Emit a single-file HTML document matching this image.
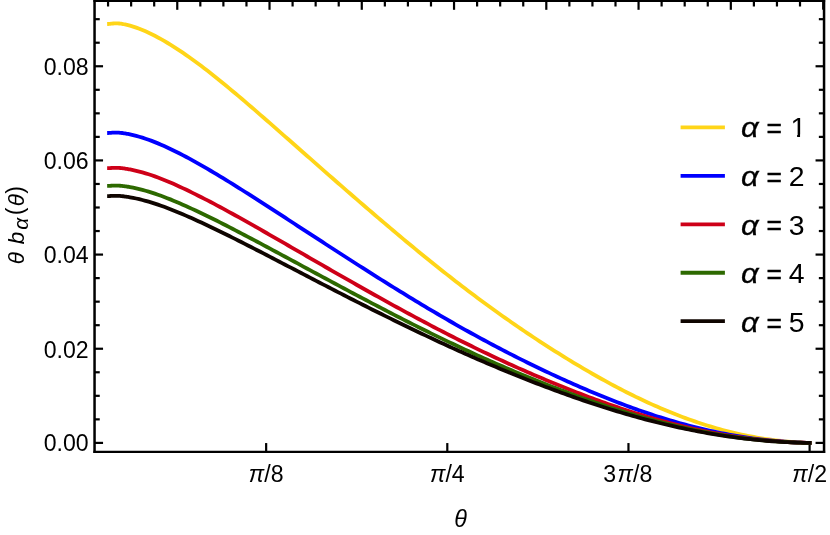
<!DOCTYPE html>
<html><head><meta charset="utf-8"><title>plot</title>
<style>html,body{margin:0;padding:0;background:#fff;}svg{display:block;will-change:transform;}text{font-family:"Liberation Sans",sans-serif;fill:#000;}</style></head><body>
<svg width="830" height="535" viewBox="0 0 830 535">
<rect width="830" height="535" fill="#fff"/>
<g stroke="#000" stroke-width="2.20" fill="none">
<line x1="94.55" y1="442.90" x2="103.05" y2="442.90"/>
<line x1="824.05" y1="442.90" x2="815.55" y2="442.90"/>
<line x1="94.55" y1="419.36" x2="99.75" y2="419.36"/>
<line x1="824.05" y1="419.36" x2="818.85" y2="419.36"/>
<line x1="94.55" y1="395.82" x2="99.75" y2="395.82"/>
<line x1="824.05" y1="395.82" x2="818.85" y2="395.82"/>
<line x1="94.55" y1="372.28" x2="99.75" y2="372.28"/>
<line x1="824.05" y1="372.28" x2="818.85" y2="372.28"/>
<line x1="94.55" y1="348.74" x2="103.05" y2="348.74"/>
<line x1="824.05" y1="348.74" x2="815.55" y2="348.74"/>
<line x1="94.55" y1="325.20" x2="99.75" y2="325.20"/>
<line x1="824.05" y1="325.20" x2="818.85" y2="325.20"/>
<line x1="94.55" y1="301.66" x2="99.75" y2="301.66"/>
<line x1="824.05" y1="301.66" x2="818.85" y2="301.66"/>
<line x1="94.55" y1="278.12" x2="99.75" y2="278.12"/>
<line x1="824.05" y1="278.12" x2="818.85" y2="278.12"/>
<line x1="94.55" y1="254.58" x2="103.05" y2="254.58"/>
<line x1="824.05" y1="254.58" x2="815.55" y2="254.58"/>
<line x1="94.55" y1="231.04" x2="99.75" y2="231.04"/>
<line x1="824.05" y1="231.04" x2="818.85" y2="231.04"/>
<line x1="94.55" y1="207.50" x2="99.75" y2="207.50"/>
<line x1="824.05" y1="207.50" x2="818.85" y2="207.50"/>
<line x1="94.55" y1="183.96" x2="99.75" y2="183.96"/>
<line x1="824.05" y1="183.96" x2="818.85" y2="183.96"/>
<line x1="94.55" y1="160.42" x2="103.05" y2="160.42"/>
<line x1="824.05" y1="160.42" x2="815.55" y2="160.42"/>
<line x1="94.55" y1="136.88" x2="99.75" y2="136.88"/>
<line x1="824.05" y1="136.88" x2="818.85" y2="136.88"/>
<line x1="94.55" y1="113.34" x2="99.75" y2="113.34"/>
<line x1="824.05" y1="113.34" x2="818.85" y2="113.34"/>
<line x1="94.55" y1="89.80" x2="99.75" y2="89.80"/>
<line x1="824.05" y1="89.80" x2="818.85" y2="89.80"/>
<line x1="94.55" y1="66.26" x2="103.05" y2="66.26"/>
<line x1="824.05" y1="66.26" x2="815.55" y2="66.26"/>
<line x1="94.55" y1="42.72" x2="99.75" y2="42.72"/>
<line x1="824.05" y1="42.72" x2="818.85" y2="42.72"/>
<line x1="94.55" y1="19.18" x2="99.75" y2="19.18"/>
<line x1="824.05" y1="19.18" x2="818.85" y2="19.18"/>
<line x1="108.06" y1="1.00" x2="108.06" y2="6.50"/>
<line x1="131.13" y1="1.00" x2="131.13" y2="6.50"/>
<line x1="154.19" y1="1.00" x2="154.19" y2="6.50"/>
<line x1="177.26" y1="1.00" x2="177.26" y2="9.80"/>
<line x1="200.32" y1="1.00" x2="200.32" y2="6.50"/>
<line x1="223.39" y1="1.00" x2="223.39" y2="6.50"/>
<line x1="246.46" y1="1.00" x2="246.46" y2="6.50"/>
<line x1="269.52" y1="1.00" x2="269.52" y2="9.80"/>
<line x1="292.59" y1="1.00" x2="292.59" y2="6.50"/>
<line x1="315.65" y1="1.00" x2="315.65" y2="6.50"/>
<line x1="338.72" y1="1.00" x2="338.72" y2="6.50"/>
<line x1="361.78" y1="1.00" x2="361.78" y2="9.80"/>
<line x1="384.85" y1="1.00" x2="384.85" y2="6.50"/>
<line x1="407.91" y1="1.00" x2="407.91" y2="6.50"/>
<line x1="430.98" y1="1.00" x2="430.98" y2="6.50"/>
<line x1="454.04" y1="1.00" x2="454.04" y2="9.80"/>
<line x1="477.11" y1="1.00" x2="477.11" y2="6.50"/>
<line x1="500.17" y1="1.00" x2="500.17" y2="6.50"/>
<line x1="523.24" y1="1.00" x2="523.24" y2="6.50"/>
<line x1="546.30" y1="1.00" x2="546.30" y2="9.80"/>
<line x1="569.37" y1="1.00" x2="569.37" y2="6.50"/>
<line x1="592.43" y1="1.00" x2="592.43" y2="6.50"/>
<line x1="615.50" y1="1.00" x2="615.50" y2="6.50"/>
<line x1="638.56" y1="1.00" x2="638.56" y2="9.80"/>
<line x1="661.62" y1="1.00" x2="661.62" y2="6.50"/>
<line x1="684.69" y1="1.00" x2="684.69" y2="6.50"/>
<line x1="707.76" y1="1.00" x2="707.76" y2="6.50"/>
<line x1="730.82" y1="1.00" x2="730.82" y2="9.80"/>
<line x1="753.89" y1="1.00" x2="753.89" y2="6.50"/>
<line x1="776.95" y1="1.00" x2="776.95" y2="6.50"/>
<line x1="800.01" y1="1.00" x2="800.01" y2="6.50"/>
<line x1="266.15" y1="451.85" x2="266.15" y2="443.05"/>
<line x1="447.30" y1="451.85" x2="447.30" y2="443.05"/>
<line x1="628.46" y1="451.85" x2="628.46" y2="443.05"/>
<line x1="809.61" y1="451.85" x2="809.61" y2="443.05"/>
</g>
<g fill="none" stroke-width="3.8" stroke-linejoin="round" stroke-linecap="butt">
<path stroke="#FFD518" d="M107.15 24.02 L108.14 23.99 L109.14 23.91 L110.13 23.81 L111.12 23.70 L112.12 23.58 L113.11 23.49 L114.10 23.41 L115.10 23.37 L116.09 23.36 L117.08 23.38 L118.08 23.43 L119.07 23.51 L120.07 23.61 L121.06 23.74 L122.05 23.90 L123.05 24.07 L124.04 24.25 L125.03 24.46 L126.03 24.68 L127.02 24.91 L128.01 25.16 L129.01 25.42 L130.00 25.69 L133.10 26.61 L136.21 27.65 L139.31 28.79 L142.41 30.02 L145.52 31.35 L148.62 32.76 L151.72 34.25 L154.83 35.82 L157.93 37.45 L161.03 39.16 L164.14 40.93 L167.24 42.75 L170.34 44.64 L173.44 46.58 L176.55 48.57 L179.65 50.61 L182.75 52.69 L185.86 54.83 L188.96 57.00 L192.06 59.22 L195.17 61.48 L198.27 63.77 L201.37 66.10 L204.48 68.46 L207.58 70.85 L210.68 73.27 L213.79 75.72 L216.89 78.20 L219.99 80.70 L223.10 83.23 L226.20 85.77 L229.30 88.34 L232.41 90.92 L235.51 93.52 L238.61 96.14 L241.72 98.77 L244.82 101.42 L247.92 104.08 L251.02 106.75 L254.13 109.42 L257.23 112.11 L260.33 114.81 L263.44 117.51 L266.54 120.22 L269.64 122.94 L272.75 125.65 L275.85 128.38 L278.95 131.10 L282.06 133.83 L285.16 136.57 L288.26 139.30 L291.37 142.03 L294.47 144.77 L297.57 147.50 L300.68 150.24 L303.78 152.97 L306.88 155.71 L309.99 158.44 L313.09 161.17 L316.19 163.90 L319.29 166.63 L322.40 169.36 L325.50 172.09 L328.60 174.81 L331.71 177.53 L334.81 180.25 L337.91 182.96 L341.02 185.68 L344.12 188.38 L347.22 191.09 L350.33 193.79 L353.43 196.49 L356.53 199.18 L359.64 201.86 L362.74 204.55 L365.84 207.22 L368.95 209.89 L372.05 212.56 L375.15 215.22 L378.26 217.87 L381.36 220.52 L384.46 223.16 L387.57 225.79 L390.67 228.42 L393.77 231.03 L396.87 233.64 L399.98 236.24 L403.08 238.84 L406.18 241.42 L409.29 244.00 L412.39 246.56 L415.49 249.12 L418.60 251.67 L421.70 254.21 L424.80 256.73 L427.91 259.25 L431.01 261.76 L434.11 264.25 L437.22 266.74 L440.32 269.21 L443.42 271.67 L446.53 274.12 L449.63 276.55 L452.73 278.98 L455.84 281.39 L458.94 283.79 L462.04 286.17 L465.15 288.55 L468.25 290.90 L471.35 293.25 L474.45 295.58 L477.56 297.90 L480.66 300.20 L483.76 302.49 L486.87 304.77 L489.97 307.03 L493.07 309.28 L496.18 311.51 L499.28 313.73 L502.38 315.94 L505.49 318.13 L508.59 320.30 L511.69 322.47 L514.80 324.61 L517.90 326.75 L521.00 328.87 L524.11 330.97 L527.21 333.07 L530.31 335.14 L533.42 337.21 L536.52 339.26 L539.62 341.30 L542.73 343.32 L545.83 345.33 L548.93 347.32 L552.03 349.30 L555.14 351.27 L558.24 353.23 L561.34 355.16 L564.45 357.09 L567.55 359.00 L570.65 360.89 L573.76 362.77 L576.86 364.64 L579.96 366.49 L583.07 368.32 L586.17 370.14 L589.27 371.95 L592.38 373.73 L595.48 375.50 L598.58 377.25 L601.69 378.99 L604.79 380.71 L607.89 382.40 L611.00 384.08 L614.10 385.75 L617.20 387.39 L620.31 389.01 L623.41 390.62 L626.51 392.20 L629.61 393.76 L632.72 395.30 L635.82 396.83 L638.92 398.33 L642.03 399.80 L645.13 401.26 L648.23 402.70 L651.34 404.11 L654.44 405.50 L657.54 406.86 L660.65 408.21 L663.75 409.53 L666.85 410.83 L669.96 412.10 L673.06 413.35 L676.16 414.57 L679.27 415.78 L682.37 416.95 L685.47 418.10 L688.58 419.23 L691.68 420.33 L694.78 421.41 L697.88 422.46 L700.99 423.49 L704.09 424.49 L707.19 425.47 L710.30 426.42 L713.40 427.34 L716.50 428.24 L719.61 429.11 L722.71 429.96 L725.81 430.78 L728.92 431.57 L732.02 432.34 L735.12 433.08 L738.23 433.79 L741.33 434.48 L744.43 435.14 L747.54 435.77 L750.64 436.38 L753.74 436.96 L756.85 437.52 L759.95 438.05 L763.05 438.55 L766.16 439.02 L769.26 439.47 L772.36 439.89 L775.46 440.29 L778.57 440.66 L781.67 441.00 L784.77 441.31 L787.88 441.60 L790.98 441.87 L794.08 442.10 L797.19 442.32 L800.29 442.50 L803.39 442.66 L806.50 442.79 L809.60 442.90 L811.50 442.90"/>
<path stroke="#0000FF" d="M107.15 133.02 L108.14 133.00 L109.14 132.94 L110.13 132.87 L111.12 132.79 L112.12 132.71 L113.11 132.65 L114.10 132.60 L115.10 132.57 L116.09 132.56 L117.08 132.59 L118.08 132.63 L119.07 132.69 L120.07 132.78 L121.06 132.88 L122.05 133.00 L123.05 133.13 L124.04 133.27 L125.03 133.43 L126.03 133.60 L127.02 133.78 L128.01 133.97 L129.01 134.17 L130.00 134.38 L133.10 135.08 L136.21 135.88 L139.31 136.74 L142.41 137.69 L145.52 138.70 L148.62 139.78 L151.72 140.91 L154.83 142.11 L157.93 143.37 L161.03 144.69 L164.14 146.06 L167.24 147.47 L170.34 148.93 L173.44 150.43 L176.55 151.96 L179.65 153.54 L182.75 155.15 L185.86 156.79 L188.96 158.45 L192.06 160.15 L195.17 161.87 L198.27 163.60 L201.37 165.36 L204.48 167.13 L207.58 168.93 L210.68 170.74 L213.79 172.57 L216.89 174.43 L219.99 176.30 L223.10 178.18 L226.20 180.08 L229.30 182.00 L232.41 183.92 L235.51 185.86 L238.61 187.81 L241.72 189.76 L244.82 191.73 L247.92 193.70 L251.02 195.67 L254.13 197.65 L257.23 199.64 L260.33 201.63 L263.44 203.63 L266.54 205.63 L269.64 207.64 L272.75 209.65 L275.85 211.66 L278.95 213.68 L282.06 215.69 L285.16 217.71 L288.26 219.73 L291.37 221.75 L294.47 223.77 L297.57 225.79 L300.68 227.81 L303.78 229.84 L306.88 231.86 L309.99 233.88 L313.09 235.90 L316.19 237.92 L319.29 239.93 L322.40 241.95 L325.50 243.97 L328.60 245.98 L331.71 247.99 L334.81 250.00 L337.91 252.01 L341.02 254.01 L344.12 256.02 L347.22 258.01 L350.33 260.01 L353.43 262.00 L356.53 263.99 L359.64 265.98 L362.74 267.96 L365.84 269.94 L368.95 271.91 L372.05 273.87 L375.15 275.84 L378.26 277.79 L381.36 279.74 L384.46 281.69 L387.57 283.63 L390.67 285.56 L393.77 287.49 L396.87 289.41 L399.98 291.33 L403.08 293.24 L406.18 295.14 L409.29 297.03 L412.39 298.92 L415.49 300.80 L418.60 302.68 L421.70 304.54 L424.80 306.40 L427.91 308.26 L431.01 310.10 L434.11 311.93 L437.22 313.76 L440.32 315.58 L443.42 317.39 L446.53 319.19 L449.63 320.98 L452.73 322.76 L455.84 324.54 L458.94 326.30 L462.04 328.05 L465.15 329.79 L468.25 331.52 L471.35 333.25 L474.45 334.96 L477.56 336.66 L480.66 338.35 L483.76 340.03 L486.87 341.70 L489.97 343.36 L493.07 345.01 L496.18 346.65 L499.28 348.27 L502.38 349.89 L505.49 351.50 L508.59 353.09 L511.69 354.68 L514.80 356.25 L517.90 357.82 L521.00 359.37 L524.11 360.92 L527.21 362.45 L530.31 363.97 L533.42 365.49 L536.52 366.99 L539.62 368.48 L542.73 369.96 L545.83 371.43 L548.93 372.90 L552.03 374.35 L555.14 375.79 L558.24 377.22 L561.34 378.64 L564.45 380.05 L567.55 381.45 L570.65 382.83 L573.76 384.21 L576.86 385.57 L579.96 386.93 L583.07 388.27 L586.17 389.60 L589.27 390.92 L592.38 392.23 L595.48 393.52 L598.58 394.81 L601.69 396.08 L604.79 397.33 L607.89 398.57 L611.00 399.80 L614.10 401.02 L617.20 402.22 L620.31 403.40 L623.41 404.57 L626.51 405.73 L629.61 406.87 L632.72 408.00 L635.82 409.11 L638.92 410.20 L642.03 411.28 L645.13 412.34 L648.23 413.39 L651.34 414.42 L654.44 415.44 L657.54 416.44 L660.65 417.42 L663.75 418.38 L666.85 419.33 L669.96 420.27 L673.06 421.18 L676.16 422.08 L679.27 422.96 L682.37 423.82 L685.47 424.67 L688.58 425.50 L691.68 426.30 L694.78 427.09 L697.88 427.87 L700.99 428.62 L704.09 429.35 L707.19 430.07 L710.30 430.76 L713.40 431.44 L716.50 432.10 L719.61 432.74 L722.71 433.36 L725.81 433.96 L728.92 434.54 L732.02 435.11 L735.12 435.65 L738.23 436.17 L741.33 436.68 L744.43 437.17 L747.54 437.63 L750.64 438.08 L753.74 438.51 L756.85 438.92 L759.95 439.31 L763.05 439.68 L766.16 440.03 L769.26 440.36 L772.36 440.67 L775.46 440.97 L778.57 441.24 L781.67 441.49 L784.77 441.73 L787.88 441.94 L790.98 442.14 L794.08 442.31 L797.19 442.47 L800.29 442.60 L803.39 442.72 L806.50 442.82 L809.60 442.90 L811.50 442.90"/>
<path stroke="#CE0018" d="M107.15 168.21 L108.14 168.20 L109.14 168.15 L110.13 168.09 L111.12 168.02 L112.12 167.95 L113.11 167.90 L114.10 167.85 L115.10 167.83 L116.09 167.83 L117.08 167.85 L118.08 167.89 L119.07 167.95 L120.07 168.02 L121.06 168.11 L122.05 168.22 L123.05 168.34 L124.04 168.47 L125.03 168.61 L126.03 168.76 L127.02 168.92 L128.01 169.09 L129.01 169.27 L130.00 169.46 L133.10 170.09 L136.21 170.80 L139.31 171.58 L142.41 172.42 L145.52 173.33 L148.62 174.29 L151.72 175.31 L154.83 176.39 L157.93 177.52 L161.03 178.70 L164.14 179.93 L167.24 181.20 L170.34 182.51 L173.44 183.86 L176.55 185.24 L179.65 186.66 L182.75 188.10 L185.86 189.58 L188.96 191.07 L192.06 192.59 L195.17 194.12 L198.27 195.68 L201.37 197.24 L204.48 198.82 L207.58 200.42 L210.68 202.03 L213.79 203.67 L216.89 205.31 L219.99 206.98 L223.10 208.66 L226.20 210.35 L229.30 212.05 L232.41 213.76 L235.51 215.48 L238.61 217.21 L241.72 218.94 L244.82 220.69 L247.92 222.43 L251.02 224.18 L254.13 225.94 L257.23 227.70 L260.33 229.47 L263.44 231.24 L266.54 233.01 L269.64 234.79 L272.75 236.57 L275.85 238.35 L278.95 240.14 L282.06 241.93 L285.16 243.71 L288.26 245.50 L291.37 247.29 L294.47 249.08 L297.57 250.88 L300.68 252.67 L303.78 254.46 L306.88 256.25 L309.99 258.04 L313.09 259.83 L316.19 261.62 L319.29 263.41 L322.40 265.20 L325.50 266.98 L328.60 268.77 L331.71 270.55 L334.81 272.33 L337.91 274.11 L341.02 275.89 L344.12 277.66 L347.22 279.43 L350.33 281.20 L353.43 282.97 L356.53 284.73 L359.64 286.49 L362.74 288.25 L365.84 290.00 L368.95 291.75 L372.05 293.49 L375.15 295.23 L378.26 296.96 L381.36 298.69 L384.46 300.41 L387.57 302.13 L390.67 303.84 L393.77 305.55 L396.87 307.25 L399.98 308.95 L403.08 310.64 L406.18 312.32 L409.29 314.00 L412.39 315.67 L415.49 317.34 L418.60 319.00 L421.70 320.65 L424.80 322.30 L427.91 323.94 L431.01 325.57 L434.11 327.20 L437.22 328.82 L440.32 330.43 L443.42 332.03 L446.53 333.63 L449.63 335.22 L452.73 336.79 L455.84 338.36 L458.94 339.93 L462.04 341.48 L465.15 343.02 L468.25 344.56 L471.35 346.08 L474.45 347.60 L477.56 349.11 L480.66 350.60 L483.76 352.09 L486.87 353.57 L489.97 355.04 L493.07 356.50 L496.18 357.96 L499.28 359.40 L502.38 360.83 L505.49 362.26 L508.59 363.67 L511.69 365.08 L514.80 366.47 L517.90 367.86 L521.00 369.24 L524.11 370.60 L527.21 371.96 L530.31 373.31 L533.42 374.65 L536.52 375.99 L539.62 377.31 L542.73 378.62 L545.83 379.92 L548.93 381.22 L552.03 382.50 L555.14 383.78 L558.24 385.05 L561.34 386.30 L564.45 387.55 L567.55 388.79 L570.65 390.02 L573.76 391.23 L576.86 392.44 L579.96 393.64 L583.07 394.83 L586.17 396.00 L589.27 397.17 L592.38 398.32 L595.48 399.47 L598.58 400.60 L601.69 401.72 L604.79 402.83 L607.89 403.93 L611.00 405.01 L614.10 406.08 L617.20 407.14 L620.31 408.19 L623.41 409.22 L626.51 410.24 L629.61 411.24 L632.72 412.23 L635.82 413.21 L638.92 414.17 L642.03 415.12 L645.13 416.06 L648.23 416.98 L651.34 417.89 L654.44 418.78 L657.54 419.66 L660.65 420.52 L663.75 421.37 L666.85 422.20 L669.96 423.02 L673.06 423.83 L676.16 424.62 L679.27 425.39 L682.37 426.15 L685.47 426.89 L688.58 427.62 L691.68 428.33 L694.78 429.03 L697.88 429.70 L700.99 430.37 L704.09 431.01 L707.19 431.64 L710.30 432.25 L713.40 432.84 L716.50 433.42 L719.61 433.98 L722.71 434.53 L725.81 435.06 L728.92 435.57 L732.02 436.06 L735.12 436.54 L738.23 437.00 L741.33 437.44 L744.43 437.87 L747.54 438.28 L750.64 438.68 L753.74 439.05 L756.85 439.41 L759.95 439.76 L763.05 440.08 L766.16 440.39 L769.26 440.68 L772.36 440.96 L775.46 441.21 L778.57 441.45 L781.67 441.68 L784.77 441.88 L787.88 442.07 L790.98 442.24 L794.08 442.40 L797.19 442.53 L800.29 442.65 L803.39 442.76 L806.50 442.84 L809.60 442.90 L811.50 442.90"/>
<path stroke="#2D6900" d="M107.15 185.91 L108.14 185.90 L109.14 185.86 L110.13 185.80 L111.12 185.73 L112.12 185.67 L113.11 185.62 L114.10 185.58 L115.10 185.56 L116.09 185.56 L117.08 185.58 L118.08 185.61 L119.07 185.67 L120.07 185.74 L121.06 185.83 L122.05 185.93 L123.05 186.04 L124.04 186.16 L125.03 186.30 L126.03 186.44 L127.02 186.59 L128.01 186.75 L129.01 186.92 L130.00 187.09 L133.10 187.69 L136.21 188.36 L139.31 189.09 L142.41 189.88 L145.52 190.73 L148.62 191.64 L151.72 192.60 L154.83 193.61 L157.93 194.68 L161.03 195.79 L164.14 196.95 L167.24 198.15 L170.34 199.38 L173.44 200.65 L176.55 201.96 L179.65 203.29 L182.75 204.65 L185.86 206.03 L188.96 207.44 L192.06 208.87 L195.17 210.31 L198.27 211.77 L201.37 213.24 L204.48 214.72 L207.58 216.22 L210.68 217.73 L213.79 219.26 L216.89 220.81 L219.99 222.37 L223.10 223.94 L226.20 225.52 L229.30 227.12 L232.41 228.72 L235.51 230.33 L238.61 231.95 L241.72 233.57 L244.82 235.20 L247.92 236.84 L251.02 238.48 L254.13 240.12 L257.23 241.77 L260.33 243.42 L263.44 245.08 L266.54 246.74 L269.64 248.40 L272.75 250.07 L275.85 251.73 L278.95 253.40 L282.06 255.07 L285.16 256.75 L288.26 258.42 L291.37 260.10 L294.47 261.77 L297.57 263.45 L300.68 265.12 L303.78 266.80 L306.88 268.47 L309.99 270.15 L313.09 271.82 L316.19 273.50 L319.29 275.17 L322.40 276.84 L325.50 278.51 L328.60 280.18 L331.71 281.85 L334.81 283.52 L337.91 285.18 L341.02 286.85 L344.12 288.51 L347.22 290.16 L350.33 291.82 L353.43 293.47 L356.53 295.12 L359.64 296.77 L362.74 298.41 L365.84 300.05 L368.95 301.68 L372.05 303.31 L375.15 304.94 L378.26 306.56 L381.36 308.18 L384.46 309.79 L387.57 311.40 L390.67 313.00 L393.77 314.60 L396.87 316.19 L399.98 317.78 L403.08 319.36 L406.18 320.93 L409.29 322.50 L412.39 324.07 L415.49 325.63 L418.60 327.18 L421.70 328.73 L424.80 330.27 L427.91 331.80 L431.01 333.33 L434.11 334.85 L437.22 336.37 L440.32 337.88 L443.42 339.38 L446.53 340.87 L449.63 342.36 L452.73 343.83 L455.84 345.30 L458.94 346.77 L462.04 348.22 L465.15 349.67 L468.25 351.10 L471.35 352.53 L474.45 353.95 L477.56 355.36 L480.66 356.77 L483.76 358.16 L486.87 359.55 L489.97 360.92 L493.07 362.29 L496.18 363.65 L499.28 365.00 L502.38 366.35 L505.49 367.68 L508.59 369.01 L511.69 370.32 L514.80 371.63 L517.90 372.93 L521.00 374.22 L524.11 375.50 L527.21 376.78 L530.31 378.04 L533.42 379.30 L536.52 380.54 L539.62 381.78 L542.73 383.01 L545.83 384.23 L548.93 385.44 L552.03 386.65 L555.14 387.84 L558.24 389.03 L561.34 390.20 L564.45 391.37 L567.55 392.53 L570.65 393.68 L573.76 394.82 L576.86 395.95 L579.96 397.06 L583.07 398.17 L586.17 399.27 L589.27 400.36 L592.38 401.44 L595.48 402.51 L598.58 403.57 L601.69 404.62 L604.79 405.65 L607.89 406.68 L611.00 407.69 L614.10 408.69 L617.20 409.67 L620.31 410.65 L623.41 411.61 L626.51 412.56 L629.61 413.50 L632.72 414.42 L635.82 415.33 L638.92 416.23 L642.03 417.11 L645.13 417.98 L648.23 418.84 L651.34 419.68 L654.44 420.51 L657.54 421.33 L660.65 422.13 L663.75 422.92 L666.85 423.70 L669.96 424.46 L673.06 425.21 L676.16 425.94 L679.27 426.66 L682.37 427.37 L685.47 428.06 L688.58 428.73 L691.68 429.39 L694.78 430.04 L697.88 430.67 L700.99 431.28 L704.09 431.88 L707.19 432.46 L710.30 433.03 L713.40 433.58 L716.50 434.12 L719.61 434.64 L722.71 435.14 L725.81 435.63 L728.92 436.11 L732.02 436.57 L735.12 437.01 L738.23 437.44 L741.33 437.85 L744.43 438.25 L747.54 438.63 L750.64 438.99 L753.74 439.34 L756.85 439.68 L759.95 440.00 L763.05 440.30 L766.16 440.59 L769.26 440.86 L772.36 441.11 L775.46 441.35 L778.57 441.57 L781.67 441.78 L784.77 441.97 L787.88 442.15 L790.98 442.30 L794.08 442.45 L797.19 442.57 L800.29 442.69 L803.39 442.78 L806.50 442.86 L809.60 442.90 L811.50 442.90"/>
<path stroke="#0F0500" d="M107.15 196.12 L108.14 196.11 L109.14 196.07 L110.13 196.02 L111.12 195.95 L112.12 195.90 L113.11 195.84 L114.10 195.81 L115.10 195.79 L116.09 195.79 L117.08 195.81 L118.08 195.84 L119.07 195.90 L120.07 195.97 L121.06 196.05 L122.05 196.15 L123.05 196.26 L124.04 196.38 L125.03 196.51 L126.03 196.65 L127.02 196.79 L128.01 196.95 L129.01 197.11 L130.00 197.28 L133.10 197.86 L136.21 198.50 L139.31 199.21 L142.41 199.98 L145.52 200.80 L148.62 201.68 L151.72 202.60 L154.83 203.58 L157.93 204.61 L161.03 205.69 L164.14 206.81 L167.24 207.97 L170.34 209.17 L173.44 210.40 L176.55 211.66 L179.65 212.96 L182.75 214.27 L185.86 215.62 L188.96 216.98 L192.06 218.36 L195.17 219.76 L198.27 221.17 L201.37 222.60 L204.48 224.03 L207.58 225.48 L210.68 226.94 L213.79 228.42 L216.89 229.92 L219.99 231.43 L223.10 232.95 L226.20 234.48 L229.30 236.03 L232.41 237.58 L235.51 239.14 L238.61 240.71 L241.72 242.28 L244.82 243.86 L247.92 245.44 L251.02 247.03 L254.13 248.62 L257.23 250.21 L260.33 251.81 L263.44 253.41 L266.54 255.02 L269.64 256.63 L272.75 258.24 L275.85 259.85 L278.95 261.46 L282.06 263.08 L285.16 264.69 L288.26 266.31 L291.37 267.93 L294.47 269.54 L297.57 271.16 L300.68 272.78 L303.78 274.39 L306.88 276.01 L309.99 277.62 L313.09 279.24 L316.19 280.85 L319.29 282.46 L322.40 284.07 L325.50 285.67 L328.60 287.28 L331.71 288.88 L334.81 290.48 L337.91 292.08 L341.02 293.67 L344.12 295.26 L347.22 296.85 L350.33 298.44 L353.43 300.02 L356.53 301.60 L359.64 303.17 L362.74 304.74 L365.84 306.31 L368.95 307.87 L372.05 309.43 L375.15 310.98 L378.26 312.53 L381.36 314.07 L384.46 315.61 L387.57 317.14 L390.67 318.67 L393.77 320.20 L396.87 321.71 L399.98 323.23 L403.08 324.74 L406.18 326.24 L409.29 327.74 L412.39 329.23 L415.49 330.72 L418.60 332.20 L421.70 333.67 L424.80 335.14 L427.91 336.61 L431.01 338.07 L434.11 339.52 L437.22 340.97 L440.32 342.41 L443.42 343.84 L446.53 345.27 L449.63 346.69 L452.73 348.11 L455.84 349.51 L458.94 350.91 L462.04 352.30 L465.15 353.69 L468.25 355.07 L471.35 356.44 L474.45 357.80 L477.56 359.15 L480.66 360.50 L483.76 361.84 L486.87 363.17 L489.97 364.49 L493.07 365.80 L496.18 367.11 L499.28 368.41 L502.38 369.70 L505.49 370.98 L508.59 372.26 L511.69 373.52 L514.80 374.78 L517.90 376.03 L521.00 377.28 L524.11 378.51 L527.21 379.74 L530.31 380.96 L533.42 382.16 L536.52 383.37 L539.62 384.56 L542.73 385.74 L545.83 386.92 L548.93 388.09 L552.03 389.25 L555.14 390.40 L558.24 391.54 L561.34 392.67 L564.45 393.79 L567.55 394.91 L570.65 396.01 L573.76 397.11 L576.86 398.19 L579.96 399.27 L583.07 400.34 L586.17 401.39 L589.27 402.44 L592.38 403.48 L595.48 404.50 L598.58 405.52 L601.69 406.52 L604.79 407.51 L607.89 408.49 L611.00 409.46 L614.10 410.42 L617.20 411.36 L620.31 412.30 L623.41 413.21 L626.51 414.12 L629.61 415.02 L632.72 415.90 L635.82 416.77 L638.92 417.62 L642.03 418.46 L645.13 419.29 L648.23 420.11 L651.34 420.91 L654.44 421.70 L657.54 422.48 L660.65 423.25 L663.75 424.00 L666.85 424.73 L669.96 425.46 L673.06 426.17 L676.16 426.86 L679.27 427.55 L682.37 428.22 L685.47 428.87 L688.58 429.51 L691.68 430.14 L694.78 430.75 L697.88 431.35 L700.99 431.93 L704.09 432.50 L707.19 433.05 L710.30 433.59 L713.40 434.11 L716.50 434.62 L719.61 435.11 L722.71 435.59 L725.81 436.05 L728.92 436.50 L732.02 436.94 L735.12 437.36 L738.23 437.76 L741.33 438.15 L744.43 438.53 L747.54 438.89 L750.64 439.23 L753.74 439.56 L756.85 439.88 L759.95 440.18 L763.05 440.47 L766.16 440.74 L769.26 441.00 L772.36 441.24 L775.46 441.46 L778.57 441.67 L781.67 441.87 L784.77 442.05 L787.88 442.21 L790.98 442.36 L794.08 442.50 L797.19 442.62 L800.29 442.72 L803.39 442.81 L806.50 442.89 L809.60 442.90 L811.50 442.90"/>
</g>
<g stroke="#000" fill="none" stroke-linecap="square">
<line x1="94.55" y1="1.00" x2="94.55" y2="451.85" stroke-width="2.5"/>
<line x1="824.05" y1="1.00" x2="824.05" y2="451.85" stroke-width="2.5"/>
<line x1="94.55" y1="451.90" x2="824.05" y2="451.90" stroke-width="2.2"/>
<line x1="94.55" y1="1.00" x2="824.05" y2="1.00" stroke-width="2.2"/>
</g>
<rect x="822.1" y="0" width="1.2" height="9.7" fill="#000"/>
<g font-size="23.1">
<text x="88.6" y="450.90" text-anchor="end">0.00</text>
<text x="88.6" y="357.74" text-anchor="end">0.02</text>
<text x="88.6" y="263.28" text-anchor="end">0.04</text>
<text x="88.6" y="169.12" text-anchor="end">0.06</text>
<text x="88.6" y="74.96" text-anchor="end">0.08</text>
<text x="266.15" y="482.2" text-anchor="middle"><tspan font-style="italic" dx="0.0">π</tspan>/8</text>
<text x="447.30" y="482.2" text-anchor="middle"><tspan font-style="italic" dx="0.0">π</tspan>/4</text>
<text x="627.76" y="482.2" text-anchor="middle">3<tspan font-style="italic" dx="1.5">π</tspan>/8</text>
<text x="809.61" y="482.2" text-anchor="middle"><tspan font-style="italic" dx="0.0">π</tspan>/2</text>
<text x="460.5" y="526.6" text-anchor="middle" font-style="italic" font-size="23.3">θ</text>
<g transform="translate(23.75 0) rotate(-90)" font-style="italic" font-size="22.6"><text x="-264.24" y="0">θ</text><text x="-244.3" y="0">b</text><text x="-229.7" y="4.2" font-size="21">α</text><text x="-215.13" y="-0.5" font-style="normal" font-size="23">(</text><text x="-206.14" y="0">θ</text><text x="-193.63" y="-0.5" font-style="normal" font-size="23">)</text></g>
</g>
<g font-size="28.4">
<line x1="680.6" y1="127.40" x2="724.9" y2="127.40" stroke="#FFD518" stroke-width="3.8"/>
<text transform="translate(741.0 137.20) scale(1.09 1)" font-style="italic" stroke="#000" stroke-width="0.3">α</text>
<text transform="translate(766.6 137.80) scale(0.93 1)" stroke="#000" stroke-width="0.5">=</text>
<text x="790.6" y="137.20">1</text>
<line x1="680.6" y1="175.85" x2="724.9" y2="175.85" stroke="#0000FF" stroke-width="3.8"/>
<text transform="translate(741.0 185.92) scale(1.09 1)" font-style="italic" stroke="#000" stroke-width="0.3">α</text>
<text transform="translate(766.6 186.52) scale(0.93 1)" stroke="#000" stroke-width="0.5">=</text>
<text x="788.8" y="185.92">2</text>
<line x1="680.6" y1="224.30" x2="724.9" y2="224.30" stroke="#CE0018" stroke-width="3.8"/>
<text transform="translate(741.0 234.64) scale(1.09 1)" font-style="italic" stroke="#000" stroke-width="0.3">α</text>
<text transform="translate(766.6 235.24) scale(0.93 1)" stroke="#000" stroke-width="0.5">=</text>
<text x="788.8" y="234.64">3</text>
<line x1="680.6" y1="272.75" x2="724.9" y2="272.75" stroke="#2D6900" stroke-width="3.8"/>
<text transform="translate(741.0 283.36) scale(1.09 1)" font-style="italic" stroke="#000" stroke-width="0.3">α</text>
<text transform="translate(766.6 283.96) scale(0.93 1)" stroke="#000" stroke-width="0.5">=</text>
<text x="788.8" y="283.36">4</text>
<line x1="680.6" y1="321.20" x2="724.9" y2="321.20" stroke="#0F0500" stroke-width="3.8"/>
<text transform="translate(741.0 332.08) scale(1.09 1)" font-style="italic" stroke="#000" stroke-width="0.3">α</text>
<text transform="translate(766.6 332.68) scale(0.93 1)" stroke="#000" stroke-width="0.5">=</text>
<text x="788.8" y="332.08">5</text>
</g>
<rect x="791.4" y="134.5" width="5.7" height="3.4" fill="#fff"/><rect x="800.05" y="134.5" width="5.6" height="3.4" fill="#fff"/>
</svg></body></html>
